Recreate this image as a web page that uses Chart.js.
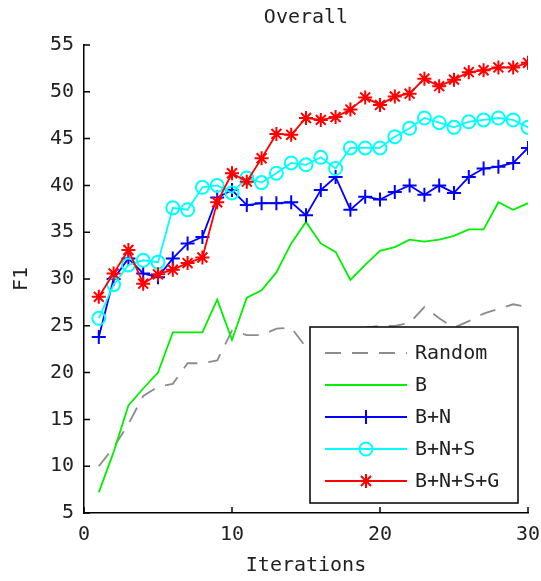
<!DOCTYPE html>
<html>
<head>
<meta charset="utf-8">
<script src="https://cdn.jsdelivr.net/npm/chart.js@4.4.1/dist/chart.umd.min.js"></script>
<style>
  html, body { margin: 0; padding: 0; background: #fff; }
  #wrap { width: 541px; height: 581px; position: relative; }
</style>
</head>
<body>
<div id="wrap"><canvas id="chart-overall"></canvas></div>
<script>
// Iteraciones (eje x) y valores F1
const iterations = [1, 2, 3, 4, 5, 6, 7, 8, 9, 10, 11, 12, 13, 14, 15,
                    16, 17, 18, 19, 20, 21, 22, 23, 24, 25, 26, 27, 28, 29, 30];
const randomF1 = [10, 12, 14.5, 17.5, 18.5, 18.8, 21, 21, 21.3, 24.5, 24, 24, 24.7, 24.8, 22.7,
                  23.8, 24.3, 24.3, 24.8, 25, 25, 25.3, 27, 25.8, 24.8, 25.5, 26.3, 26.8, 27.3, 27];
const bF1 = [7.2, 11.5, 16.5, 18.3, 20, 24.3, 24.3, 24.3, 27.8, 23.5, 28, 28.8, 30.7, 33.8, 36.1,
             33.8, 32.9, 29.9, 31.5, 33, 33.4, 34.2, 34, 34.2, 34.6, 35.3, 35.3, 38.2, 37.4, 38.1];
const bnF1 = [23.8, 30, 32.2, 30.6, 30.2, 32.2, 33.8, 34.5, 38.7, 39.5, 37.9, 38.1, 38.1, 38.2, 36.8,
              39.5, 40.9, 37.4, 38.8, 38.5, 39.3, 40, 39, 40, 39.2, 40.9, 41.8, 42, 42.4, 44];
const bnsF1 = [25.8, 29.4, 31.5, 32, 31.8, 37.6, 37.4, 39.8, 40, 39.2, 40.8, 40.3, 41.3, 42.4, 42.2,
               43, 41.8, 44, 44, 44, 45.2, 46.1, 47.2, 46.7, 46.2, 46.8, 47, 47.2, 47, 46.2];
const bnsgF1 = [28.1, 30.6, 33.1, 29.5, 30.5, 31, 31.7, 32.3, 38.2, 41.3, 40.4, 42.9, 45.5, 45.4, 47.2,
                47, 47.3, 48.1, 49.4, 48.6, 49.5, 49.8, 51.4, 50.6, 51.3, 52.1, 52.3, 52.6, 52.6, 53.1];
const seriesNames = ['Random', 'B', 'B+N', 'B+N+S', 'B+N+S+G'];
const yTicks = [5, 10, 15, 20, 25, 30, 35, 40, 45, 50, 55];
const xTicks = [0, 10, 20, 30];

const fontFamily = '"DejaVu Sans Mono", monospace';
const textColor = '#222';

function toPoints(values) {
    return values.map((v, i) => ({ x: iterations[i], y: v }));
}

// Dibuja un marcador estilo MATLAB (+, o, *)
function drawMarker(ctx, style, x, y, r, color) {
    ctx.save();
    ctx.strokeStyle = color;
    ctx.lineWidth = 2;
    ctx.beginPath();
    if (style === 'cross' || style === 'star') {
        ctx.moveTo(x - r, y); ctx.lineTo(x + r, y);
        ctx.moveTo(x, y - r); ctx.lineTo(x, y + r);
    }
    if (style === 'star') {
        const d = r * 0.72;
        ctx.moveTo(x - d, y - d); ctx.lineTo(x + d, y + d);
        ctx.moveTo(x - d, y + d); ctx.lineTo(x + d, y - d);
    }
    if (style === 'circle') {
        ctx.arc(x, y, r, 0, Math.PI * 2);
    }
    ctx.stroke();
    ctx.restore();
}

// Leyenda dentro del area del grafico, con fondo blanco y borde
const boxLegend = {
    id: 'boxLegend',
    afterDatasetsDraw(chart) {
        const ctx = chart.ctx;
        const area = chart.chartArea;
        const w = 208, h = 176;
        const left = area.right - 10 - w;
        const top = area.bottom - 10 - h;
        ctx.save();
        ctx.fillStyle = '#fff';
        ctx.fillRect(left, top, w, h);
        ctx.strokeStyle = '#000';
        ctx.lineWidth = 1.5;
        ctx.strokeRect(left, top, w, h);
        ctx.font = '20px ' + fontFamily;
        ctx.textBaseline = 'middle';
        ctx.textAlign = 'left';
        chart.data.datasets.forEach((ds, i) => {
            const y = top + 26 + i * 32;
            const x0 = left + 15, x1 = left + 97;
            ctx.save();
            ctx.strokeStyle = ds.borderColor;
            ctx.lineWidth = ds.borderWidth;
            ctx.setLineDash(ds.borderDash || []);
            ctx.beginPath();
            ctx.moveTo(x0, y);
            ctx.lineTo(x1, y);
            ctx.stroke();
            ctx.restore();
            if (ds.pointRadius > 0) {
                drawMarker(ctx, ds.pointStyle, (x0 + x1) / 2, y, ds.pointRadius, ds.borderColor);
            }
            ctx.fillStyle = textColor;
            ctx.fillText(ds.label, left + 105, y + 1);
        });
        ctx.restore();
    }
};

// Marcas de graduacion hacia adentro (como en MATLAB)
const innerTicks = {
    id: 'innerTicks',
    afterDraw(chart) {
        const ctx = chart.ctx;
        const xs = chart.scales.x, ys = chart.scales.y;
        const area = chart.chartArea;
        ctx.save();
        ctx.strokeStyle = '#000';
        ctx.lineWidth = 1.5;
        ctx.beginPath();
        yTicks.forEach(v => {
            const py = ys.getPixelForValue(v);
            ctx.moveTo(area.left, py);
            ctx.lineTo(area.left + 6, py);
        });
        xTicks.forEach(v => {
            const px = xs.getPixelForValue(v);
            ctx.moveTo(px, area.bottom);
            ctx.lineTo(px, area.bottom - 6);
        });
        ctx.stroke();
        ctx.restore();
    }
};

function lineSet(label, values, color, style, radius, order, dash) {
    return {
        label: label,
        data: toPoints(values),
        borderColor: color,
        backgroundColor: color,
        borderWidth: 1.8,
        borderDash: dash || [],
        pointStyle: style,
        pointRadius: radius,
        pointHoverRadius: radius,
        pointBorderColor: color,
        pointBackgroundColor: 'rgba(0,0,0,0)',
        pointBorderWidth: 2,
        tension: 0,
        order: order
    };
}

const ctxOverall = document.getElementById('chart-overall');
new Chart(ctxOverall, {
    type: 'line',
    data: {
        datasets: [
            lineSet(seriesNames[0], randomF1, '#8c8c8c', false, 0, 5, [16, 11]),
            lineSet(seriesNames[1], bF1, '#00f000', false, 0, 4),
            lineSet(seriesNames[2], bnF1, '#0000ff', 'cross', 7, 3),
            lineSet(seriesNames[3], bnsF1, '#00ffff', 'circle', 6.5, 2),
            lineSet(seriesNames[4], bnsgF1, '#ff0000', 'star', 7, 1)
        ]
    },
    options: {
        responsive: true,
        maintainAspectRatio: false,
        animation: false,
        layout: { padding: { left: 0, right: 13, top: 0, bottom: 0 } },
        plugins: {
            legend: { display: false },
            tooltip: { enabled: false },
            title: {
                display: true,
                text: 'Overall',
                fullSize: false,
                color: textColor,
                font: { family: fontFamily, size: 20, weight: 'normal', lineHeight: 1.2 },
                padding: { top: 6, bottom: 15 }
            }
        },
        scales: {
            x: {
                type: 'linear',
                min: 0,
                max: 30,
                ticks: { stepSize: 10, color: textColor, padding: 10,
                         font: { family: fontFamily, size: 20 } },
                grid: { display: false, drawTicks: false },
                border: { display: true, color: '#000', width: 1.5 },
                title: { display: true, text: 'Iterations', color: textColor,
                         font: { family: fontFamily, size: 20 }, padding: { top: 0, bottom: 3 } },
                afterFit(scale) {
                    scale.height = 68;
                    scale.paddingLeft = 0;
                    scale.paddingRight = 0;
                }
            },
            y: {
                min: 5,
                max: 55,
                ticks: { stepSize: 5, color: textColor, padding: 10,
                         font: { family: fontFamily, size: 20 } },
                grid: { display: false, drawTicks: false },
                border: { display: true, color: '#000', width: 1.5 },
                title: { display: true, text: 'F1', color: textColor,
                         font: { family: fontFamily, size: 20 }, padding: { top: 10, bottom: 0 } },
                afterFit(scale) {
                    scale.width = 84;
                    scale.paddingTop = 0;
                    scale.paddingBottom = 0;
                }
            }
        }
    },
    plugins: [boxLegend, innerTicks]
});
</script>
</body>
</html>
